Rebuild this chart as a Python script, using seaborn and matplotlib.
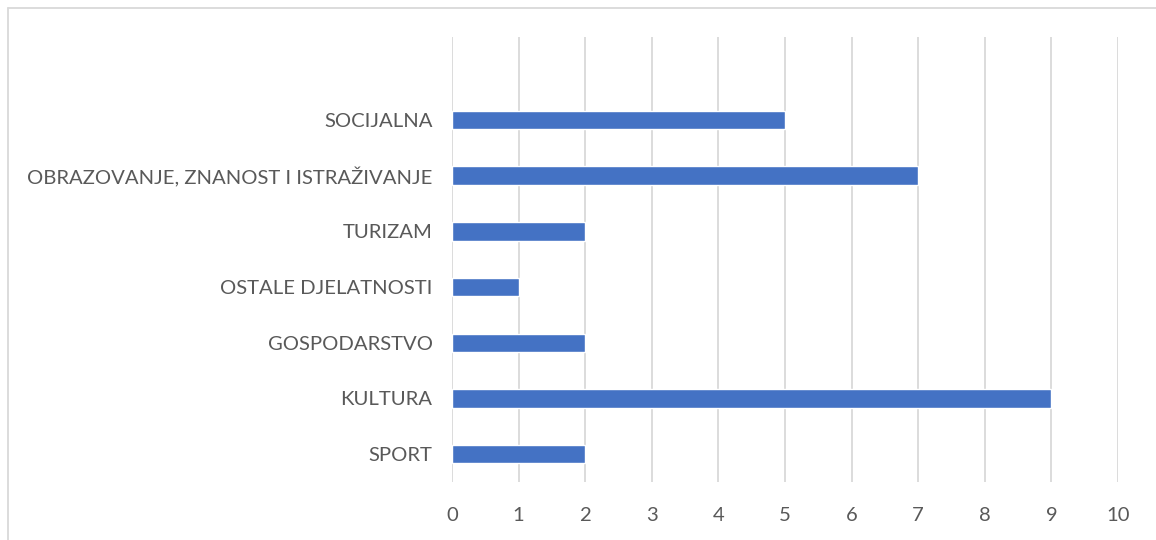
import matplotlib
matplotlib.use("Agg")
import matplotlib.pyplot as plt
import pandas as pd
import seaborn as sns
from matplotlib.lines import Line2D

categories = [
    "SOCIJALNA",
    "OBRAZOVANJE, ZNANOST I ISTRAŽIVANJE",
    "TURIZAM",
    "OSTALE DJELATNOSTI",
    "GOSPODARSTVO",
    "KULTURA",
    "SPORT",
]
values = [5, 7, 2, 1, 2, 9, 2]
x_ticks = [0, 1, 2, 3, 4, 5, 6, 7, 8, 9, 10]

sns.set_style("white")
plt.rcParams["font.family"] = ["Lato", "DejaVu Sans"]

df = pd.DataFrame({"kategorija": categories, "broj": values})

fig = plt.figure(figsize=(11.56, 5.4), dpi=100)
ax = fig.add_axes([452 / 1156, 1 - 482 / 540, (1118 - 452) / 1156, (482 - 37) / 540])

sns.barplot(data=df, y="kategorija", x="broj", orient="h", color="#4472C4",
            width=0.33, saturation=1, ax=ax, zorder=3)

ax.set_xlim(0, 10)
ax.set_ylim(6.5, -1.49)
ax.set_xticks(x_ticks)
ax.set_xlabel("")
ax.set_ylabel("")
ax.grid(axis="x", color="#D9D9D9", linewidth=1.3, zorder=0)
ax.grid(axis="y", visible=False)
for s in ax.spines.values():
    s.set_visible(False)
ax.tick_params(axis="both", length=0, labelsize=14.6, labelcolor="#595959")
ax.tick_params(axis="y", pad=14)
ax.tick_params(axis="x", pad=18)

# chart border (top and left edges visible in the crop)
fig.add_artist(Line2D([7.5 / 1156, 1], [1 - 7.5 / 540, 1 - 7.5 / 540],
                      color="#D9D9D9", linewidth=1.3, transform=fig.transFigure))
fig.add_artist(Line2D([7.5 / 1156, 7.5 / 1156], [0, 1 - 7.5 / 540],
                      color="#D9D9D9", linewidth=1.3, transform=fig.transFigure))

fig.savefig("out.png", dpi=100)
plt.close(fig)
